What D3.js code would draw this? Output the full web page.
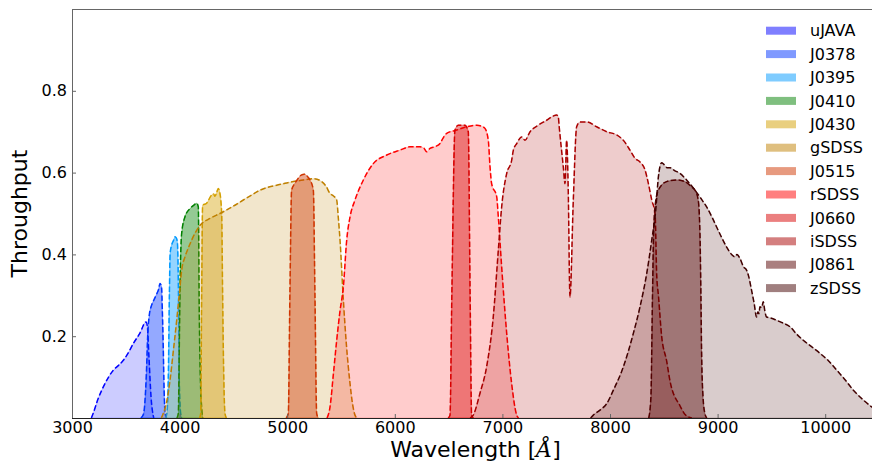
<!DOCTYPE html>
<html>
<head>
<meta charset="utf-8">
<script src="https://cdn.jsdelivr.net/npm/d3@7"></script>
<style>
  html, body { margin: 0; padding: 0; background: #fff; }
  svg { display: block; font-family: "DejaVu Sans", sans-serif; }
</style>
</head>
<body>
<svg id="chart" width="872" height="466"></svg>
<script>
// ---------------- DATA ----------------
const filterNames = ["uJAVA","J0378","J0395","J0410","J0430","gSDSS","J0515","rSDSS","J0660","iSDSS","J0861","zSDSS"];
const xTicks = [3000,4000,5000,6000,7000,8000,9000,10000];
const yTicks = [0.2,0.4,0.6,0.8];

// [wavelength (Å), throughput]
const uJAVA = [[3180,0],[3198,0.012],[3240,0.045],[3291,0.076],[3340,0.1],[3384,0.117],[3430,0.128],[3477,0.141],[3520,0.158],[3570,0.182],[3630,0.207],[3688,0.235],[3700,0.225],[3715,0.15],[3735,0.05],[3760,0]];
const J0378 = [[3640,0],[3665,0.01],[3690,0.1],[3705,0.21],[3720,0.255],[3735,0.272],[3760,0.288],[3790,0.305],[3805,0.315],[3818,0.329],[3832,0.32],[3840,0.26],[3848,0.174],[3856,0.07],[3866,0.01],[3880,0]];
const J0395 = [[3870,0],[3882,0.012],[3895,0.1],[3905,0.3],[3912,0.402],[3926,0.423],[3945,0.435],[3957,0.443],[3970,0.44],[3979,0.431],[3988,0.337],[3997,0.092],[4010,0.011],[4020,0]];
const J0410 = [[3975,0],[3988,0.011],[3996,0.15],[4004,0.32],[4019,0.451],[4050,0.492],[4097,0.512],[4130,0.52],[4159,0.525],[4174,0.516],[4183,0.255],[4195,0.08],[4205,0.027],[4215,0]];
const J0430 = [[4185,0],[4196,0.011],[4205,0.3],[4214,0.52],[4251,0.525],[4297,0.545],[4315,0.548],[4329,0.542],[4345,0.552],[4359,0.561],[4375,0.549],[4391,0.5],[4400,0.3],[4406,0.174],[4422,0.011],[4435,0]];
const gSDSS = [[3830,0],[3848,0.011],[3880,0.04],[3911,0.092],[3940,0.16],[3973,0.239],[4000,0.31],[4019,0.361],[4050,0.394],[4080,0.415],[4112,0.435],[4150,0.455],[4190,0.471],[4283,0.488],[4375,0.5],[4480,0.515],[4592,0.533],[4680,0.547],[4747,0.557],[4830,0.565],[4902,0.569],[4980,0.574],[5057,0.578],[5150,0.582],[5250,0.585],[5320,0.578],[5360,0.567],[5398,0.549],[5430,0.543],[5460,0.533],[5475,0.49],[5491,0.435],[5522,0.288],[5550,0.18],[5584,0.084],[5610,0.03],[5630,0.007],[5650,0]];
const J0515 = [[4990,0],[5010,0.011],[5025,0.3],[5041,0.557],[5072,0.574],[5100,0.585],[5130,0.594],[5160,0.596],[5190,0.59],[5212,0.582],[5243,0.557],[5258,0.3],[5274,0.011],[5290,0]];
const rSDSS = [[5370,0],[5398,0.027],[5430,0.11],[5460,0.19],[5490,0.26],[5522,0.321],[5553,0.435],[5584,0.492],[5630,0.533],[5708,0.582],[5800,0.622],[5925,0.643],[6048,0.655],[6141,0.663],[6234,0.663],[6270,0.66],[6296,0.651],[6327,0.659],[6380,0.664],[6420,0.671],[6450,0.685],[6482,0.696],[6575,0.704],[6668,0.712],[6761,0.716],[6810,0.713],[6838,0.708],[6869,0.679],[6885,0.614],[6900,0.573],[6947,0.541],[6962,0.492],[6993,0.37],[7040,0.207],[7086,0.084],[7133,0.007],[7150,0]];
const J0660 = [[6495,0],[6513,0.007],[6530,0.3],[6559,0.704],[6590,0.716],[6652,0.716],[6683,0.7],[6700,0.3],[6714,0.007],[6730,0]];
const iSDSS = [[6700,0],[6729,0.007],[6791,0.06],[6853,0.125],[6915,0.247],[6962,0.41],[6993,0.516],[7040,0.598],[7086,0.63],[7102,0.655],[7133,0.671],[7179,0.687],[7210,0.679],[7257,0.7],[7334,0.716],[7411,0.728],[7470,0.738],[7504,0.741],[7520,0.735],[7528,0.712],[7566,0.614],[7582,0.573],[7597,0.679],[7612,0.557],[7628,0.296],[7659,0.533],[7690,0.712],[7721,0.724],[7783,0.724],[7876,0.712],[7969,0.7],[8062,0.692],[8124,0.679],[8186,0.655],[8233,0.635],[8279,0.626],[8326,0.606],[8357,0.573],[8388,0.533],[8419,0.5],[8434,0.35],[8450,0.3],[8480,0.2],[8526,0.14],[8558,0.09],[8650,0.03],[8700,0.008],[8760,0]];
const J0861 = [[8360,0],[8380,0.05],[8395,0.3],[8405,0.45],[8420,0.52],[8449,0.557],[8526,0.578],[8619,0.582],[8696,0.578],[8758,0.565],[8790,0.557],[8820,0.533],[8836,0.451],[8845,0.3],[8851,0.166],[8865,0.05],[8882,0.011],[8900,0]];
const zSDSS = [[7820,0],[7845,0.007],[7910,0.02],[7969,0.035],[8031,0.068],[8124,0.125],[8217,0.207],[8279,0.272],[8341,0.353],[8388,0.435],[8425,0.508],[8450,0.59],[8480,0.624],[8500,0.62],[8530,0.612],[8558,0.612],[8600,0.605],[8650,0.598],[8712,0.582],[8790,0.557],[8850,0.535],[8898,0.516],[8950,0.49],[8991,0.467],[9040,0.44],[9084,0.418],[9130,0.4],[9161,0.394],[9180,0.4],[9208,0.39],[9240,0.37],[9270,0.361],[9290,0.345],[9316,0.312],[9340,0.28],[9362,0.247],[9375,0.26],[9385,0.255],[9393,0.272],[9410,0.27],[9424,0.284],[9440,0.26],[9455,0.247],[9500,0.244],[9548,0.239],[9610,0.232],[9673,0.223],[9735,0.205],[9796,0.19],[9870,0.175],[9952,0.158],[10030,0.14],[10107,0.117],[10180,0.095],[10262,0.068],[10350,0.045],[10433,0.027],[10500,0.015]];

const filterData = [uJAVA,J0378,J0395,J0410,J0430,gSDSS,J0515,rSDSS,J0660,iSDSS,J0861,zSDSS];
const filterColors = ["#0000ff","#0033ff","#0099ff","#008000","#d4a000","#bf8000","#cf3500","#ff0000","#d70000","#a90000","#550000","#410000"];
const filterBroad = [true,false,false,false,false,true,false,true,false,true,false,true];

// ---------------- LAYOUT ----------------
const svg = d3.select("#chart");
const W = 872, H = 466;
const mLeft = 72, mTop = 9, mBottom = 418, mRight = 879;

const x = d3.scaleLinear().domain([3000, 10500]).range([mLeft, mRight]);
const y = d3.scaleLinear().domain([0, 1.0]).range([mBottom, mTop]);

svg.append("defs").append("clipPath").attr("id", "plotclip")
  .append("rect").attr("x", mLeft).attr("y", mTop).attr("width", mRight - mLeft).attr("height", mBottom - mTop);

const plot = svg.append("g").attr("clip-path", "url(#plotclip)");

const area = d3.area().x(d => x(d[0])).y0(y(0)).y1(d => y(d[1])).curve(d3.curveMonotoneX);
const line = d3.line().x(d => x(d[0])).y(d => y(d[1])).curve(d3.curveMonotoneX);

filterData.forEach((data, i) => {
  const c = filterColors[i];
  const a = filterBroad[i] ? 0.2 : 0.42;
  plot.append("path").datum(data).attr("d", area)
    .attr("fill", c).attr("fill-opacity", a)
    .attr("stroke", c).attr("stroke-opacity", a).attr("stroke-width", 1);
  plot.append("path").datum(data).attr("d", line)
    .attr("fill", "none").attr("stroke", c).attr("stroke-width", 1.5)
    .attr("stroke-dasharray", "5.5,2.4");
});

// ---------------- AXES ----------------
const xAxis = d3.axisBottom(x).tickValues(xTicks).tickSizeInner(-4).tickSizeOuter(0).tickPadding(4).tickFormat(d3.format("d"));
const gx = svg.append("g").attr("transform", `translate(0,${mBottom})`).call(xAxis);
gx.select(".domain").remove();
gx.selectAll("line").attr("stroke", "#666");
gx.selectAll("text").attr("font-size", 16).attr("font-family", "DejaVu Sans").attr("fill", "#000");

const yAxis = d3.axisLeft(y).tickValues(yTicks).tickSizeInner(-4).tickSizeOuter(0).tickPadding(5).tickFormat(d3.format(".1f"));
const gy = svg.append("g").attr("transform", `translate(${mLeft},0)`).call(yAxis);
gy.select(".domain").remove();
gy.selectAll("line").attr("stroke", "#666");
gy.selectAll("text").attr("font-size", 16).attr("font-family", "DejaVu Sans").attr("fill", "#000");

// spines
svg.append("line").attr("x1", mLeft + 0.5).attr("x2", mLeft + 0.5).attr("y1", mTop).attr("y2", mBottom).attr("stroke", "#666");
svg.append("line").attr("x1", mLeft).attr("x2", W).attr("y1", mTop + 0.5).attr("y2", mTop + 0.5).attr("stroke", "#666");
svg.append("line").attr("x1", mLeft).attr("x2", W).attr("y1", mBottom + 0.5).attr("y2", mBottom + 0.5).attr("stroke", "#222");

// axis labels
const xl = svg.append("text").attr("x", (mLeft + mRight) / 2).attr("y", 457)
  .attr("text-anchor", "middle").attr("font-size", 22).attr("fill", "#000");
xl.append("tspan").text("Wavelength [");
xl.append("tspan").attr("font-family", "DejaVu Serif").attr("font-style", "italic").text("Å");
xl.append("tspan").text("]");

svg.append("text").attr("transform", `translate(27,${(mTop + mBottom) / 2}) rotate(-90)`)
  .attr("text-anchor", "middle").attr("font-size", 22).attr("fill", "#000").text("Throughput");

// ---------------- LEGEND ----------------
const leg = svg.append("g");
filterNames.forEach((name, i) => {
  const cy = 30.7 + i * 23.4;
  leg.append("rect").attr("x", 766).attr("y", cy - 4).attr("width", 30).attr("height", 8)
    .attr("fill", filterColors[i]).attr("fill-opacity", 0.5);
  leg.append("text").attr("x", 810).attr("y", cy).attr("dy", "0.36em")
    .attr("font-size", 16).attr("fill", "#000").text(name);
});
</script>
</body>
</html>
